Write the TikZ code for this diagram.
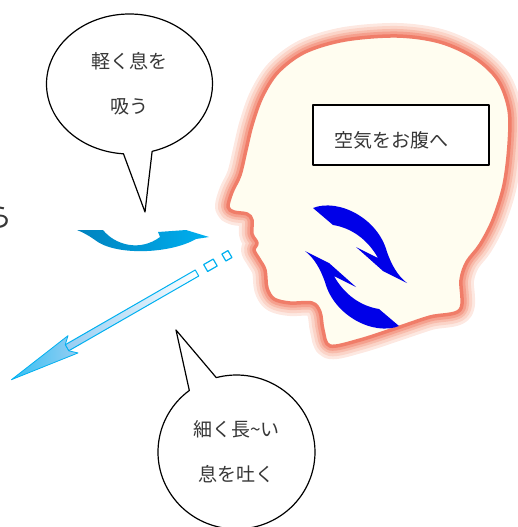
\documentclass[tikz,border=0pt]{standalone}
\usepackage{fontspec}
\newfontfamily\cjk{Noto Sans CJK JP}
\usetikzlibrary{calc,shapes.callouts}

\definecolor{skin}{RGB}{255,253,240}
\definecolor{rim}{RGB}{240,125,105}
\definecolor{glowA}{RGB}{253,232,225}
\definecolor{glowB}{RGB}{251,212,200}
\definecolor{glowC}{RGB}{248,188,172}
\definecolor{glowD}{RGB}{245,160,142}
\definecolor{breath}{RGB}{0,176,240}
\definecolor{breathdark}{RGB}{0,130,190}
\definecolor{breathpale}{RGB}{150,205,242}
\definecolor{swirl}{RGB}{0,0,232}
\definecolor{ink}{RGB}{55,55,55}

\newcommand{\Txt}{\cjk\fontsize{19}{45}\selectfont}
\tikzset{Bubble/.style={
    ellipse callout,
    draw=black,
    line width=1.2pt,
    fill=white,
    inner sep=0pt,
    align=center,
    text=ink,
    font=\Txt,
    }
}

% outline of the head, in pixel units
\newcommand{\HeadPath}{plot[smooth cycle, tension=0.55] coordinates {
    (397,36) (440,42) (475,58) (498,80) (509,110) (509,145) (504,185)
    (493,220) (480,245) (467,262) (461,280) (460,310) (430,317) (397,328)
    (360,340) (330,346) (323,330) (320,312) (312,303) (290,303) (274,299)
    (267,288) (265,270) (259,259) (254,250) (257,243) (252,234) (252,220)
    (247,214) (234,212) (228,207) (232,192) (240,175) (246,150) (252,125)
    (262,97) (278,72) (305,52) (345,40)}}
% one of the two turning arrows inside the head
\newcommand{\SwirlPath}{(313,208) .. controls (338,198) and (378,218) .. (387,252)
    .. controls (392,266) and (398,276) .. (407,283) -- (383,271) -- (356,247)
    -- (378,258) .. controls (368,240) and (352,228) .. (333,225) -- cycle}

\begin{document}
\begin{tikzpicture}[x=1pt, y=-1pt, line join=round,
    breathline/.style={draw=breath, line width=1.2pt},
]
\useasboundingbox (0,0) rectangle (518,527);

\node[font=\cjk\fontsize{28}{28}\selectfont, anchor=east, inner sep=0pt, text=ink] (cut) at (13,217) {ら};

% head with soft red rim
\foreach \w/\c in {26/glowA,20/glowB,14/glowC,9/glowD}
    \draw[line width=\w pt, \c] \HeadPath;
\fill[skin] \HeadPath;
\draw[rim, line width=3.5pt] \HeadPath;

\node[draw=black, line width=1.5pt, fill=white, minimum width=176pt, inner ysep=0pt,
    text width=134pt, inner xsep=21pt, align=left, text height=42pt, text depth=18pt,
    font=\Txt, text=ink] (belly) at (401,135) {空気をお腹へ};

\fill[swirl] \SwirlPath;
\fill[swirl, rotate around={180:(356,267)}] \SwirlPath;

% breathing in
\shade[left color=breathdark, right color=breath] (77,230) -- (103,230)
    .. controls (115,245) and (140,252) .. (160,237) -- (158,232) -- (186,230)
    -- (209,237) -- (196,239) .. controls (170,254) and (115,256) .. (95,240)
    .. controls (88,235) and (82,232) .. (77,230) -- cycle;

% breathing out
\begin{scope}[shift={(197,273)}, rotate=209.9]
    \draw[breathline, fill=white] (-38,-4) -- (-31,-4) -- (-31,4) -- (-38,4) -- cycle;
    \draw[breathline, fill=white] (-21,-4) -- (-10,-4) -- (-10,4) -- (-21,4) -- cycle;
    \shade[left color=breathpale, right color=white, draw=breath, line width=1pt]
        (0,-3.5) -- (150,-3.5) -- (150,3.5) -- (0,3.5) -- cycle;
    \shade[left color=breath!80, right color=breathpale, draw=breath, line width=0.8pt]
        (150,-3.5) -- (143,-10) -- (214,0) -- (143,10) -- (150,3.5) -- cycle;
\end{scope}

\node[Bubble, minimum width=166pt, minimum height=140pt,
    callout absolute pointer={(145,212)}, callout pointer arc=20] (inhale) at (129.5,84) {軽く息を\\吸う};
\node[Bubble, minimum width=157pt, minimum height=154pt,
    callout absolute pointer={(176,330)}, callout pointer arc=22] (exhale) at (236.5,452) {細く長\textasciitilde い\\息を吐く};
\end{tikzpicture}
\end{document}
